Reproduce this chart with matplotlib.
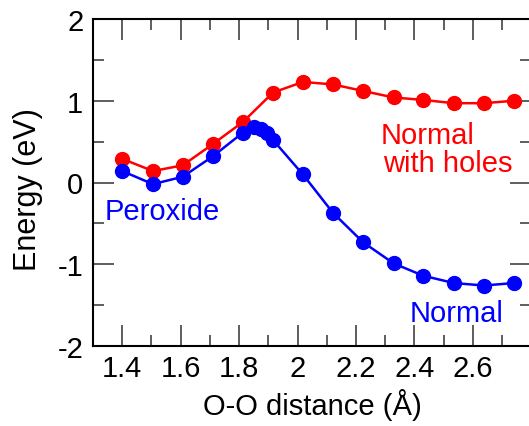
import matplotlib
matplotlib.use("Agg")
import matplotlib.pyplot as plt
from matplotlib.ticker import MultipleLocator, FixedLocator

plt.rcParams["font.family"] = ["Liberation Sans", "DejaVu Sans"]
plt.rcParams["axes.unicode_minus"] = False

# O-O distance (Angstrom) and energies (eV)
dist_holes = [1.40, 1.505, 1.607, 1.71, 1.813, 1.916, 2.018, 2.121, 2.224,
              2.329, 2.43, 2.535, 2.638, 2.74]
energy_holes = [0.29, 0.14, 0.21, 0.47, 0.74, 1.10, 1.23, 1.20, 1.12,
                1.04, 1.01, 0.97, 0.97, 1.00]

dist_normal = [1.40, 1.505, 1.607, 1.71, 1.813, 1.85, 1.875, 1.895, 1.916,
               2.018, 2.121, 2.224, 2.329, 2.43, 2.535, 2.638, 2.74]
energy_normal = [0.14, -0.02, 0.07, 0.32, 0.61, 0.68, 0.66, 0.60, 0.52,
                 0.10, -0.37, -0.73, -0.99, -1.14, -1.23, -1.26, -1.23]

x_ticks = [1.4, 1.6, 1.8, 2.0, 2.2, 2.4, 2.6]
x_tick_labels = ["1.4", "1.6", "1.8", "2", "2.2", "2.4", "2.6"]
y_ticks = [-2, -1, 0, 1, 2]

fig = plt.figure(figsize=(5.29, 4.27), dpi=100)
# axes runs past the right edge like in the original (cropped) figure
ax = fig.add_axes([93 / 529, 1 - 347 / 427, (531.3 - 93) / 529, (347 - 20) / 427])

ax.plot(dist_holes, energy_holes, "-o", color="#ff0000", lw=1.8, ms=10, zorder=3)
ax.plot(dist_normal, energy_normal, "-o", color="#0000ff", lw=1.8, ms=10, zorder=4)

ax.set_xlim(1.3, 2.8)
ax.set_ylim(-2, 2)
ax.xaxis.set_major_locator(FixedLocator(x_ticks))
ax.set_xticklabels(x_tick_labels)
ax.xaxis.set_minor_locator(MultipleLocator(0.1))
ax.set_yticks(y_ticks)
ax.yaxis.set_minor_locator(MultipleLocator(0.5))

ax.tick_params(which="both", direction="in", top=True, right=True,
               width=1.1, color="#333333", labelsize=21)
ax.tick_params(which="major", length=15)
ax.tick_params(which="minor", length=8)
ax.tick_params(axis="x", pad=6)
ax.tick_params(axis="y", pad=7)
for s in ax.spines.values():
    s.set_linewidth(1.5)

ax.set_xlabel("O-O distance (Å)", fontsize=21, labelpad=4)
ax.set_ylabel("Energy (eV)", fontsize=22)
ax.yaxis.set_label_coords(-0.115, 0.48)

ax.text(2.283, 0.486, "Normal", color="#ff0000", fontsize=21, va="baseline")
ax.text(2.292, 0.136, "with holes", color="#ff0000", fontsize=21, va="baseline")
ax.text(1.34, -0.447, "Peroxide", color="#0000ff", fontsize=21, va="baseline")
ax.text(2.383, -1.70, "Normal", color="#0000ff", fontsize=21, va="baseline")

fig.savefig("out.png", dpi=100)
